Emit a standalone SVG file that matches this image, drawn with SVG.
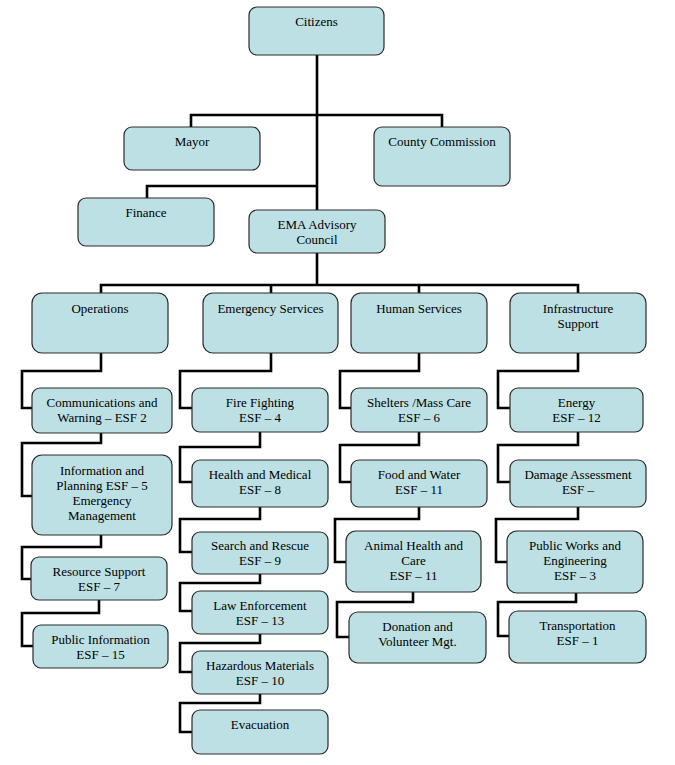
<svg xmlns="http://www.w3.org/2000/svg" width="675" height="765" viewBox="0 0 675 765">
<style>
.b{fill:#bce0e3;stroke:#2a2a2a;stroke-width:1.2}
.t{font-family:'Liberation Serif','Times New Roman','DejaVu Serif',serif;font-size:13px;fill:#000;text-anchor:middle}
.c{fill:none;stroke:#000;stroke-width:2.6;stroke-linejoin:miter}
</style>
<rect width="675" height="765" fill="#fff"/>
<g id="connectors" class="c">
<path d="M317,55 V210"/>
<path d="M191,127 V115 H442 V127"/>
<path d="M147,198 V186 H317"/>
<path d="M317,253 V285"/>
<path d="M101,293 V285 H578 V293"/>
<path d="M271,285 V293"/>
<path d="M419,285 V293"/>
<path d="M101,353 V371 H22 V408 H32"/>
<path d="M101,433 V443 H22 V496 H32"/>
<path d="M101,535 V547 H22 V579 H31"/>
<path d="M99,600 V613 H22 V646 H33"/>
<path d="M271,353 V371 H180 V408 H192"/>
<path d="M260,432 V447 H180 V482 H192"/>
<path d="M260,507 V519 H180 V552 H192"/>
<path d="M260,574 V583 H180 V611 H192"/>
<path d="M260,634 V643 H180 V672 H192"/>
<path d="M260,694 V703 H180 V732 H192"/>
<path d="M419,353 V371 H340 V408 H351"/>
<path d="M419,432 V445 H340 V482 H351"/>
<path d="M419,507 V519 H335 V562 H346"/>
<path d="M413,592 V602 H337 V637 H349"/>
<path d="M578,353 V371 H498 V408 H510"/>
<path d="M578,432 V445 H498 V482 H510"/>
<path d="M578,507 V519 H496 V562 H507"/>
<path d="M576,593 V602 H498 V636 H509"/>
</g>
<g id="citizens"><rect class="b" x="249" y="7" width="135" height="48" rx="8"/><text class="t" x="316.5" y="26">Citizens</text></g>
<g id="mayor"><rect class="b" x="124" y="127" width="136" height="43" rx="8"/><text class="t" x="192" y="146">Mayor</text></g>
<g id="county"><rect class="b" x="374" y="127" width="136" height="59" rx="8"/><text class="t" x="442" y="146">County Commission</text></g>
<g id="finance"><rect class="b" x="78" y="198" width="136" height="48" rx="8"/><text class="t" x="146" y="217">Finance</text></g>
<g id="ema"><rect class="b" x="249" y="210" width="136" height="43" rx="8"/><text class="t" x="317" y="229">EMA Advisory</text><text class="t" x="317" y="244">Council</text></g>
<g id="operations"><rect class="b" x="32" y="293" width="136" height="60" rx="10"/><text class="t" x="100" y="313">Operations</text></g>
<g id="emergency"><rect class="b" x="203" y="293" width="135" height="60" rx="10"/><text class="t" x="270.5" y="313">Emergency Services</text></g>
<g id="human"><rect class="b" x="351" y="293" width="136" height="60" rx="10"/><text class="t" x="419" y="313">Human Services</text></g>
<g id="infrastructure"><rect class="b" x="510" y="293" width="136" height="60" rx="10"/><text class="t" x="578" y="313">Infrastructure</text><text class="t" x="578" y="328">Support</text></g>
<g id="comm"><rect class="b" x="32" y="388" width="140" height="45" rx="8"/><text class="t" x="102" y="407">Communications and</text><text class="t" x="102" y="422">Warning – ESF 2</text></g>
<g id="info"><rect class="b" x="32" y="455" width="140" height="80" rx="10"/><text class="t" x="102" y="475">Information and</text><text class="t" x="102" y="490">Planning ESF – 5</text><text class="t" x="102" y="505">Emergency</text><text class="t" x="102" y="520">Management</text></g>
<g id="resource"><rect class="b" x="31" y="557" width="136" height="43" rx="8"/><text class="t" x="99" y="576">Resource Support</text><text class="t" x="99" y="591">ESF – 7</text></g>
<g id="pubinfo"><rect class="b" x="33" y="625" width="135" height="43" rx="8"/><text class="t" x="100.5" y="644">Public Information</text><text class="t" x="100.5" y="659">ESF – 15</text></g>
<g id="fire"><rect class="b" x="192" y="388" width="136" height="44" rx="8"/><text class="t" x="260" y="407">Fire Fighting</text><text class="t" x="260" y="422">ESF – 4</text></g>
<g id="health"><rect class="b" x="192" y="460" width="136" height="47" rx="8"/><text class="t" x="260" y="479">Health and Medical</text><text class="t" x="260" y="494">ESF – 8</text></g>
<g id="search"><rect class="b" x="192" y="532" width="136" height="42" rx="8"/><text class="t" x="260" y="550">Search and Rescue</text><text class="t" x="260" y="565">ESF – 9</text></g>
<g id="law"><rect class="b" x="192" y="591" width="136" height="43" rx="8"/><text class="t" x="260" y="610">Law Enforcement</text><text class="t" x="260" y="625">ESF – 13</text></g>
<g id="hazmat"><rect class="b" x="192" y="651" width="136" height="43" rx="8"/><text class="t" x="260" y="670">Hazardous Materials</text><text class="t" x="260" y="685">ESF – 10</text></g>
<g id="evacuation"><rect class="b" x="192" y="710" width="136" height="44" rx="8"/><text class="t" x="260" y="729">Evacuation</text></g>
<g id="shelters"><rect class="b" x="351" y="388" width="136" height="44" rx="8"/><text class="t" x="419" y="407">Shelters /Mass Care</text><text class="t" x="419" y="422">ESF – 6</text></g>
<g id="food"><rect class="b" x="351" y="460" width="136" height="47" rx="8"/><text class="t" x="419" y="479">Food and Water</text><text class="t" x="419" y="494">ESF – 11</text></g>
<g id="animal"><rect class="b" x="346" y="531" width="135" height="61" rx="10"/><text class="t" x="413.5" y="550">Animal Health and</text><text class="t" x="413.5" y="565">Care</text><text class="t" x="413.5" y="580">ESF – 11</text></g>
<g id="donation"><rect class="b" x="349" y="612" width="137" height="51" rx="9"/><text class="t" x="417.5" y="631">Donation and</text><text class="t" x="417.5" y="646">Volunteer Mgt.</text></g>
<g id="energy"><rect class="b" x="510" y="388" width="133" height="44" rx="8"/><text class="t" x="576.5" y="407">Energy</text><text class="t" x="576.5" y="422">ESF – 12</text></g>
<g id="damage"><rect class="b" x="510" y="460" width="136" height="47" rx="8"/><text class="t" x="578" y="479">Damage Assessment</text><text class="t" x="578" y="494">ESF –</text></g>
<g id="publicworks"><rect class="b" x="507" y="531" width="136" height="62" rx="10"/><text class="t" x="575" y="550">Public Works and</text><text class="t" x="575" y="565">Engineering</text><text class="t" x="575" y="580">ESF – 3</text></g>
<g id="transportation"><rect class="b" x="509" y="611" width="137" height="52" rx="9"/><text class="t" x="577.5" y="630">Transportation</text><text class="t" x="577.5" y="645">ESF – 1</text></g>
</svg>
